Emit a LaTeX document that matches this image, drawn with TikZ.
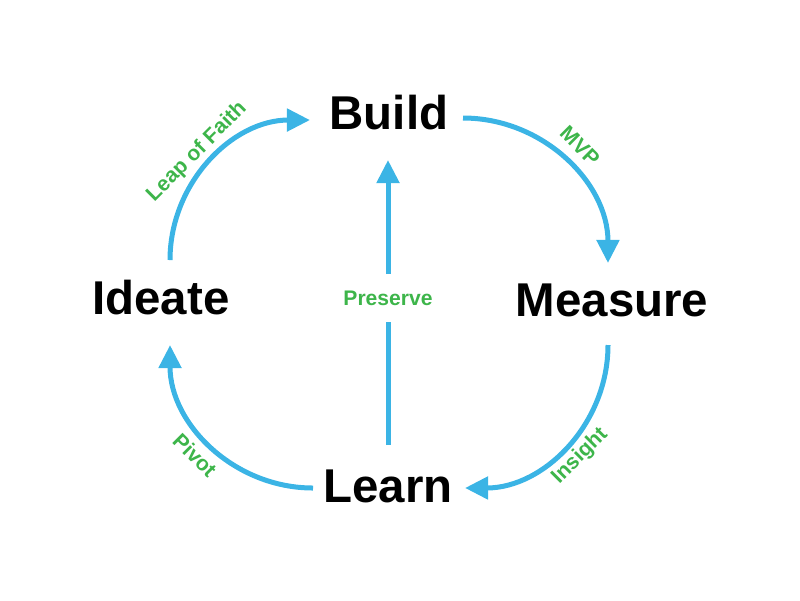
\documentclass[tikz,border=0pt]{standalone}
\usepackage{fontspec}
\setmainfont{Liberation Sans}
\usetikzlibrary{arrows.meta,positioning}
\definecolor{cycleblue}{HTML}{3BB4E5}
\definecolor{labelgreen}{HTML}{3DB54A}
\begin{document}
\begin{tikzpicture}[x=0.02cm, y=-0.02cm,
    stage/.style={font=\bfseries\fontsize{27}{30}\selectfont, inner sep=0pt},
    tag/.style={font=\bfseries\fontsize{12}{14}\selectfont, text=labelgreen, inner sep=1pt},
    flow/.style={draw=cycleblue, line width=0.1cm, -{Triangle[length=0.46cm, width=0.44cm]}}
]
    \useasboundingbox (0,0) rectangle (800,600);
    % Stages
    \node[stage] (build) at (389,113) {Build};
    \node[stage] (measure) at (612,300) {Measure};
    \node[stage] (learn) at (388,486) {Learn};
    \node[stage] (ideate) at (161,298) {Ideate};

    % Arc end points
    \coordinate (ideateTop) at (170,260);
    \coordinate (buildRight) at (463,118);
    \coordinate (measureBottom) at (608,345);
    \coordinate (learnLeft) at (313,488);
    \coordinate (learnTop) at (388,445);
    \coordinate (buildBottom) at (388,160);

    % Cycle arrows
    \draw[flow] (ideateTop) arc[start angle=180, end angle=90, radius=2.8cm];
    \draw[flow] (buildRight) arc[start angle=90, end angle=0, radius=2.9cm];
    \draw[flow] (measureBottom) arc[start angle=0, end angle=-90, radius=2.86cm];
    \draw[flow] (learnLeft) arc[start angle=-90, end angle=-180, radius=2.86cm];

    % Centre arrow with gap
    \node[tag] (preserve) at (388,298) {Preserve};
    \draw[flow, -] (learnTop) -- (388,322);
    \draw[flow] (388,274) -- (buildBottom);

    % Arc labels
    \node[tag, rotate=45] (leap) at (197,152) {Leap of Faith};
    \node[tag, rotate=-45] (mvp) at (580,146) {MVP};
    \node[tag, rotate=45] (insight) at (580,456) {Insight};
    \node[tag, rotate=-45] (pivot) at (195,455) {Pivot};
\end{tikzpicture}
\end{document}
